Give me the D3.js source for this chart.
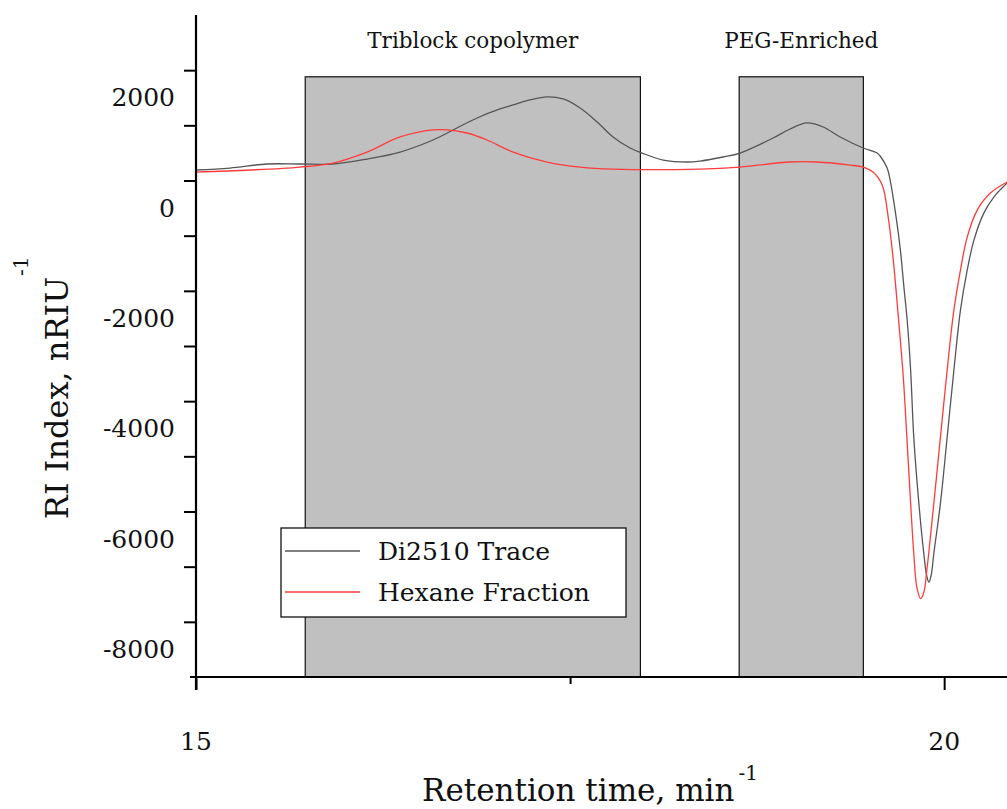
<!DOCTYPE html>
<html>
<head>
<meta charset="utf-8">
<script src="https://cdn.jsdelivr.net/npm/d3@7"></script>
<style>
  html, body { margin: 0; padding: 0; background: #fff; }
  svg { display: block; }
  text { font-family: "DejaVu Serif", "Liberation Serif", serif; fill: #111; }
</style>
</head>
<body>
<svg id="chart" width="1007" height="809"></svg>
<script>
// Retention times (min) and RI signal (nRIU) for the two GPC traces
const diTime = [15.000, 15.227, 15.475, 15.695, 15.916, 16.143, 16.364, 16.584, 16.718, 16.878, 17.032, 17.119, 17.233, 17.346, 17.453, 17.567, 17.681, 17.787, 17.901, 17.981, 18.122, 18.282, 18.369, 18.523, 18.636, 18.857, 18.971, 19.084, 19.191, 19.305, 19.459, 19.552, 19.572, 19.619, 19.639, 19.672, 19.706, 19.733, 19.753, 19.776, 19.797, 19.831, 19.864, 19.883, 19.898, 19.913, 19.931, 19.975, 20.020, 20.065, 20.109, 20.154, 20.199, 20.265, 20.332, 20.421];
const diValue = [690, 726, 799, 799, 799, 889, 1016, 1234, 1416, 1633, 1797, 1869, 1960, 2015, 1978, 1815, 1561, 1289, 1089, 998, 871, 835, 853, 926, 998, 1270, 1434, 1543, 1470, 1289, 1089, 998, 944, 726, 508, -36, -726, -1488, -2033, -2940, -4156, -5354, -6261, -6661, -6782, -6661, -6261, -5354, -4156, -2940, -1851, -1125, -581, -91, 200, 454];

const hexTime = [15.000, 15.361, 15.695, 15.916, 16.143, 16.364, 16.584, 16.678, 16.811, 16.945, 17.119, 17.346, 17.567, 17.787, 18.369, 18.636, 18.971, 19.151, 19.372, 19.459, 19.525, 19.586, 19.626, 19.660, 19.694, 19.727, 19.753, 19.776, 19.797, 19.818, 19.843, 19.864, 19.884, 19.931, 19.975, 20.020, 20.065, 20.109, 20.154, 20.221, 20.309, 20.421];
const hexValue = [653, 690, 744, 817, 1016, 1289, 1416, 1416, 1361, 1234, 1016, 835, 744, 708, 708, 744, 835, 835, 780, 744, 653, 417, -163, -944, -1978, -3067, -4265, -5354, -6261, -6878, -7078, -6969, -6570, -5354, -4156, -2940, -1851, -1125, -526, -36, 272, 472];

// Shaded fraction windows
const regionNames = ["Triblock copolymer", "PEG-Enriched"];
const regionStart = [15.73, 18.63];
const regionEnd = [17.97, 19.46];
const regionTop = 2380;

// Axis ticks and labels
const yTickValues = [2500, 1500, 500, -500, -1500, -2500, -3500, -4500, -5500, -6500, -7500];
const yLabelValues = [2000, 0, -2000, -4000, -6000, -8000];
const xMajorTicks = [15, 20];
const xMinorTicks = [17.5];

const seriesNames = ["Di2510 Trace", "Hexane Fraction"];
const seriesColors = ["#555555", "#ff3b3b"];

const svg = d3.select("#chart");

const x = d3.scaleLinear().domain([15, 20.42]).range([196, 1007]);
const y = d3.scaleLinear().domain([-8500, 3500]).range([677, 15]);

// Fraction boxes
svg.append("g").selectAll("rect")
  .data(regionStart.map((s, i) => ({ s, e: regionEnd[i] })))
  .join("rect")
  .attr("x", d => x(d.s))
  .attr("y", y(regionTop))
  .attr("width", d => x(d.e) - x(d.s))
  .attr("height", y(-8500) - y(regionTop))
  .attr("fill", "#c0c0c0")
  .attr("stroke", "#111")
  .attr("stroke-width", 1.2);

svg.append("g").selectAll("text")
  .data(regionNames.map((n, i) => ({ n, c: (regionStart[i] + regionEnd[i]) / 2 })))
  .join("text")
  .attr("x", d => x(d.c))
  .attr("y", 48)
  .attr("text-anchor", "middle")
  .attr("font-size", 21.5)
  .text(d => d.n);

// Traces
const line = d3.line().x(d => x(d[0])).y(d => y(d[1])).curve(d3.curveCatmullRom.alpha(0.5));
const traces = [d3.zip(diTime, diValue), d3.zip(hexTime, hexValue)];

svg.append("g")
  .selectAll("path")
  .data(traces)
  .join("path")
  .attr("d", line)
  .attr("fill", "none")
  .attr("stroke", (d, i) => seriesColors[i])
  .attr("stroke-width", 1.3);

// Y axis: tick marks and labels are placed separately
const yTicks = svg.append("g").attr("transform", `translate(196,0)`)
  .call(d3.axisLeft(y).tickValues(yTickValues).tickSize(12).tickFormat(""));
yTicks.select(".domain").attr("stroke-width", 2.2).attr("d", `M0,${y(3500)}V${y(-8500) + 13}`);
yTicks.selectAll(".tick line").attr("stroke-width", 2);

const yLabels = svg.append("g").attr("transform", `translate(196,0)`)
  .call(d3.axisLeft(y).tickValues(yLabelValues).tickSize(0).tickPadding(21).tickFormat(d => String(d)));
yLabels.select(".domain").remove();
yLabels.selectAll("text").attr("font-size", 25).attr("font-family", "DejaVu Serif").attr("fill", "#111");

// X axis
const xAxis = svg.append("g").attr("transform", `translate(0,${y(-8500)})`)
  .call(d3.axisBottom(x).tickValues(xMajorTicks).tickSize(13).tickFormat(""));
xAxis.select(".domain").attr("stroke-width", 2.2).attr("d", `M190,0H1007`);
xAxis.selectAll(".tick line").attr("stroke-width", 2);

const xMinor = svg.append("g").attr("transform", `translate(0,${y(-8500)})`)
  .call(d3.axisBottom(x).tickValues(xMinorTicks).tickSize(7).tickFormat(""));
xMinor.select(".domain").remove();
xMinor.selectAll(".tick line").attr("stroke-width", 2);

svg.append("g").selectAll("text")
  .data(xMajorTicks)
  .join("text")
  .attr("x", d => x(d))
  .attr("y", 750)
  .attr("text-anchor", "middle")
  .attr("font-size", 25)
  .text(d => d);

// Axis titles
const xTitle = svg.append("text")
  .attr("x", 590)
  .attr("y", 801)
  .attr("text-anchor", "middle")
  .attr("font-size", 31);
xTitle.append("tspan").text("Retention time, min");
xTitle.append("tspan").attr("dx", 4).attr("dy", -21).attr("font-size", 20).text("-1");

const yTitle = svg.append("text")
  .attr("transform", "translate(68,398) rotate(-90)")
  .attr("font-size", 32);
yTitle.append("tspan").attr("text-anchor", "middle").text("RI Index, nRIU");
yTitle.append("tspan").attr("x", 122).attr("dy", -40).attr("font-size", 20).text("-1");

// Legend
const legend = svg.append("g");
legend.append("rect")
  .attr("x", 281).attr("y", 528).attr("width", 345).attr("height", 89)
  .attr("fill", "#fff").attr("stroke", "#111").attr("stroke-width", 1.3);
const rows = legend.selectAll("g.row")
  .data(seriesNames)
  .join("g")
  .attr("class", "row")
  .attr("transform", (d, i) => `translate(0,${551 + i * 41})`);
rows.append("line")
  .attr("x1", 285).attr("x2", 360)
  .attr("stroke", (d, i) => seriesColors[i])
  .attr("stroke-width", 1.3);
rows.append("text")
  .attr("x", 378)
  .attr("y", 9)
  .attr("font-size", 25)
  .text(d => d);
</script>
</body>
</html>
